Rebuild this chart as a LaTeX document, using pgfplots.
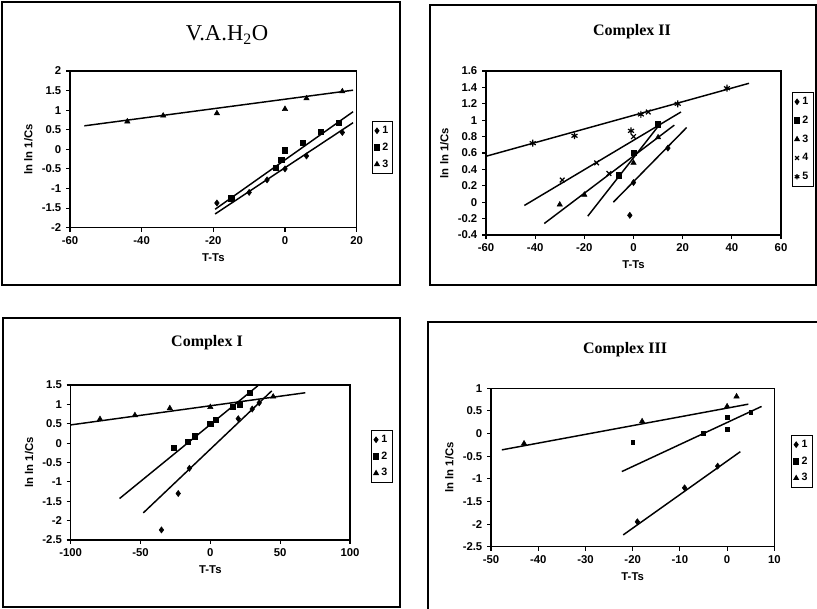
\documentclass[border=0pt]{standalone}
\usepackage{fontspec}
\setmainfont{Liberation Serif}
\newfontfamily\arial{Liberation Sans}
\usepackage{pgfplots}
\pgfplotsset{compat=1.18}

\pgfplotsset{
  xl/.style={
    scale only axis,
    anchor=north west,
    axis line style={line width=0.9pt},
    tick align=outside,
    xtick pos=bottom, ytick pos=left,
    major tick length=3pt,
    tick style={line width=0.8pt, black},
    /pgf/number format/assume math mode=true,
    tick label style={font=\arial\bfseries\fontsize{8.5}{9}\selectfont},
    label style={font=\arial\bfseries\fontsize{8.5}{9}\selectfont},
    xlabel={T-Ts}, ylabel={ln ln 1/Cs},
    every axis title shift=0pt,
    title style={font=\bfseries\fontsize{12}{14}\selectfont, anchor=center},
    legend style={draw=black, line width=0.7pt, inner sep=1.5pt, row sep=1.5pt,
      font=\arial\bfseries\fontsize{8}{9}\selectfont, anchor=north west,
      /tikz/every even column/.append style={column sep=1pt}},
    legend cell align=left,
    legend image code/.code={\draw[##1, mark size=2pt] plot coordinates {(2pt,0pt)};},
  },
  fit/.style={black, line width=1.1pt, no markers, forget plot},
  pts/.style={black, only marks, mark size=2.3pt},
}

\begin{document}
\begin{tikzpicture}
\useasboundingbox (0,0) rectangle (612.75pt,-456.75pt);
% panel frames
\draw[line width=1.1pt] (1.5pt,-1.5pt) rectangle (300pt,-213.75pt);
\draw[line width=1.1pt] (322.5pt,-3.75pt) rectangle (612pt,-213.75pt);
\draw[line width=1.1pt] (2.25pt,-238.5pt) rectangle (300pt,-455.25pt);
\draw[line width=1.1pt] (321pt,-456.75pt) -- (321pt,-241.5pt) -- (612.75pt,-241.5pt);

% V.A.H2O
\begin{axis}[xl, at={(52.5pt,-53.25pt)}, width=215pt, height=117.5pt,
  xmin=-60, xmax=20, ymin=-2, ymax=2, xtick={-60,-40,...,20}, ytick={-2,-1.5,...,2},
  title={V.A.H\textsubscript{2}O},
  title style={font=\fontsize{17}{19}\selectfont, at={(0.548,1.23)}},
  legend style={at={(1.053,0.681)}}]
\addplot[pts, mark=diamond*] coordinates {(-19,-1.37) (-10,-1.1) (-5,-0.78) (0,-0.5) (6,-0.17) (16,0.43)};
\addplot[pts, mark=square*, mark size=2pt] coordinates {(-15,-1.25) (-2.5,-0.47) (-1,-0.27) (0,-0.02) (5,0.17) (10,0.45) (15,0.67)};
\addplot[pts, mark=triangle*] coordinates {(-44,0.71) (-34,0.86) (-19,0.92) (0,1.03) (6,1.3) (16,1.48)};
\addplot[fit] coordinates {(-19.5,-1.65) (19,0.68)};
\addplot[fit] coordinates {(-19.5,-1.53) (19,0.96)};
\addplot[fit] coordinates {(-56,0.6) (19,1.51)};
\legend{1,2,3}
\end{axis}

% Complex II
\begin{axis}[xl, at={(364.5pt,-53.25pt)}, width=221.25pt, height=123pt,
  xmin=-60, xmax=60, ymin=-0.4, ymax=1.6, xtick={-60,-40,...,60}, ytick={-0.4,-0.2,...,1.61},
  title={Complex II}, title style={at={(0.495,1.238)}},
  legend style={at={(1.037,0.872)}, row sep=3pt}]
\addplot[pts, mark=diamond*] coordinates {(-1.5,-0.16) (0,0.24) (14,0.66)};
\addplot[pts, mark=square*, mark size=2pt] coordinates {(-6,0.33) (0,0.6) (10,0.95)};
\addplot[pts, mark=triangle*] coordinates {(-30,-0.03) (-20,0.09) (0,0.48) (10,0.79)};
\addplot[pts, mark=x, mark size=2.5pt, line width=0.9pt] coordinates {(-29,0.27) (-15,0.48) (-10,0.35) (0,0.8) (6,1.1)};
\addplot[pts, mark=asterisk, mark size=2.6pt, line width=0.9pt] coordinates {(-41,0.72) (-24,0.81) (-1,0.87) (3,1.07) (18,1.2) (38,1.39)};
\addplot[fit] coordinates {(-44.4,-0.04) (19.3,1.1)};
\addplot[fit] coordinates {(-36.3,-0.26) (16.6,0.94)};
\addplot[fit] coordinates {(-18.6,-0.17) (11.2,0.97)};
\addplot[fit] coordinates {(-8.2,0.0) (21.6,0.91)};
\addplot[fit] coordinates {(-60,0.56) (47,1.45)};
\legend{1,2,3,4,5}
\end{axis}

% Complex I
\begin{axis}[xl, at={(53pt,-288.75pt)}, width=209.5pt, height=116.25pt,
  xmin=-100, xmax=100, ymin=-2.5, ymax=1.5, xtick={-100,-50,...,100}, ytick={-2.5,-2,...,1.5},
  title={Complex I}, title style={at={(0.488,1.271)}},
  legend style={at={(1.075,0.71)}}]
\addplot[pts, mark=diamond*] coordinates {(-35,-2.24) (-23,-1.3) (-15,-0.65) (20,0.63) (30,0.88) (35,1.04)};
\addplot[pts, mark=square*, mark size=2pt] coordinates {(-26,-0.12) (-16,0.03) (-11,0.18) (0,0.5) (4,0.6) (16,0.93) (21,1.0) (28,1.3)};
\addplot[pts, mark=triangle*] coordinates {(-79,0.62) (-54,0.72) (-29,0.9) (0,0.93) (45,1.2)};
\addplot[fit] coordinates {(-48,-1.8) (44,1.35)};
\addplot[fit] coordinates {(-65,-1.43) (34,1.48)};
\addplot[fit] coordinates {(-100,0.47) (68,1.3)};
\legend{1,2,3}
\end{axis}

% Complex III
\begin{axis}[xl, at={(368.25pt,-291.25pt)}, width=212.5pt, height=118.75pt,
  xmin=-50, xmax=10, ymin=-2.5, ymax=1, xtick={-50,-40,...,10}, ytick={-2.5,-2,...,1},
  title={Complex III}, title style={at={(0.473,1.243)}},
  legend style={at={(1.059,0.706)}}]
\addplot[pts, mark=diamond*] coordinates {(-19,-1.95) (-9,-1.2) (-2,-0.72)};
\addplot[pts, mark=square*, mark size=1.4pt] coordinates {(-20,-0.2) (-5,0.0) (0,0.36) (0,0.1) (5,0.47)};
\addplot[pts, mark=triangle*] coordinates {(-43,-0.22) (-18,0.27) (0,0.6) (2,0.82)};
\addplot[fit] coordinates {(-22,-2.24) (2.8,-0.4)};
\addplot[fit] coordinates {(-22.3,-0.84) (7.3,0.6)};
\addplot[fit] coordinates {(-47.7,-0.36) (4.5,0.65)};
\legend{1,2,3}
\end{axis}
\end{tikzpicture}
\end{document}
